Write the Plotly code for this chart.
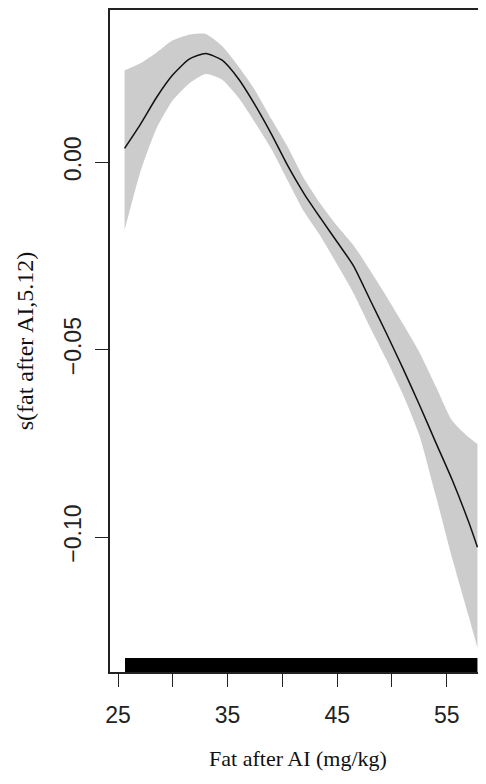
import plotly.graph_objects as go

# Smooth term estimate for fat after AI (GAM partial effect) with confidence band
fat_x = [25.6, 27.0, 28.5, 30.0, 31.5, 33.0, 34.5, 36.0, 37.5, 39.0, 40.5, 42.0,
         43.5, 45.0, 46.5, 48.0, 49.5, 51.0, 52.5, 54.0, 55.5, 57.0, 57.8]
fit_y = [0.0037, 0.0099, 0.0172, 0.0233, 0.0275, 0.0290, 0.0272, 0.0222, 0.0153,
         0.0075, -0.0010, -0.0085, -0.0150, -0.0213, -0.0277, -0.0367, -0.0457,
         -0.0550, -0.0647, -0.0748, -0.0848, -0.0960, -0.1027]
upper_y = [0.0245, 0.0263, 0.0292, 0.0325, 0.0340, 0.0342, 0.0310, 0.0255, 0.0192,
           0.0115, 0.0040, -0.0045, -0.0112, -0.0170, -0.0222, -0.0288, -0.0358,
           -0.0431, -0.0507, -0.0598, -0.0690, -0.0734, -0.0752]
lower_y = [-0.0181, -0.0030, 0.0089, 0.0165, 0.0210, 0.0235, 0.0220, 0.0172, 0.0106,
           0.0035, -0.0050, -0.0133, -0.0198, -0.0273, -0.0350, -0.0440, -0.0527,
           -0.0619, -0.0729, -0.0890, -0.1057, -0.1211, -0.1295]
rug_x = [25.64, 57.8]

x_tickvals = [25, 30, 35, 40, 45, 50, 55]
x_ticktext = ["25", "", "35", "", "45", "", "55"]
y_tickvals = [-0.10, -0.05, 0.00]
y_ticktext = ["\u22120.10", "\u22120.05", "0.00"]

fig = go.Figure()
fig.add_trace(go.Scatter(
    x=fat_x, y=upper_y, mode="lines",
    line=dict(width=0, shape="spline", smoothing=0.6),
    hoverinfo="skip", showlegend=False))
fig.add_trace(go.Scatter(
    x=fat_x, y=lower_y, mode="lines", fill="tonexty", fillcolor="#cccccc",
    line=dict(width=0, shape="spline", smoothing=0.6),
    hoverinfo="skip", showlegend=False))
fig.add_trace(go.Scatter(
    x=fat_x, y=fit_y, mode="lines",
    line=dict(color="#111111", width=1.5, shape="spline", smoothing=0.6),
    showlegend=False))

fig.add_shape(type="rect", xref="x", yref="y domain",
              x0=rug_x[0], x1=rug_x[1], y0=0, y1=0.021,
              fillcolor="black", line=dict(width=0))

tick_font = dict(family="Liberation Sans, Arial, sans-serif", size=23, color="#222222")
title_font = dict(family="Liberation Serif, Times New Roman, serif", size=22, color="#111111")

# the page body adds an 8px offset, so the figure is sized/offset to compensate
fig.update_layout(
    width=478, height=776,
    margin=dict(l=102, r=0, t=2, b=112),
    paper_bgcolor="white", plot_bgcolor="white",
    xaxis=dict(
        range=[24.27, 58.58], showgrid=False, zeroline=False, automargin=False,
        showline=True, mirror=True, linecolor="#222222", linewidth=1.6,
        ticks="outside", ticklen=13, tickwidth=1.4, tickcolor="#222222",
        tickvals=x_tickvals, ticktext=x_ticktext, tickfont=tick_font,
        ticklabelstandoff=9,
        title=dict(text="Fat after AI (mg/kg)", font=title_font, standoff=23),
    ),
    yaxis=dict(
        range=[-0.136, 0.0406], showgrid=False, zeroline=False, automargin=False,
        showline=True, mirror=False, linecolor="#222222", linewidth=1.6,
        ticks="outside", ticklen=13, tickwidth=1.4, tickcolor="#222222",
        tickvals=y_tickvals, ticktext=y_ticktext, tickfont=tick_font,
        tickangle=-90, ticklabelstandoff=5,
        title=dict(text="s(fat after AI,5.12)", font=dict(title_font, size=24), standoff=20),
    ),
)

fig.write_html("out.html")
